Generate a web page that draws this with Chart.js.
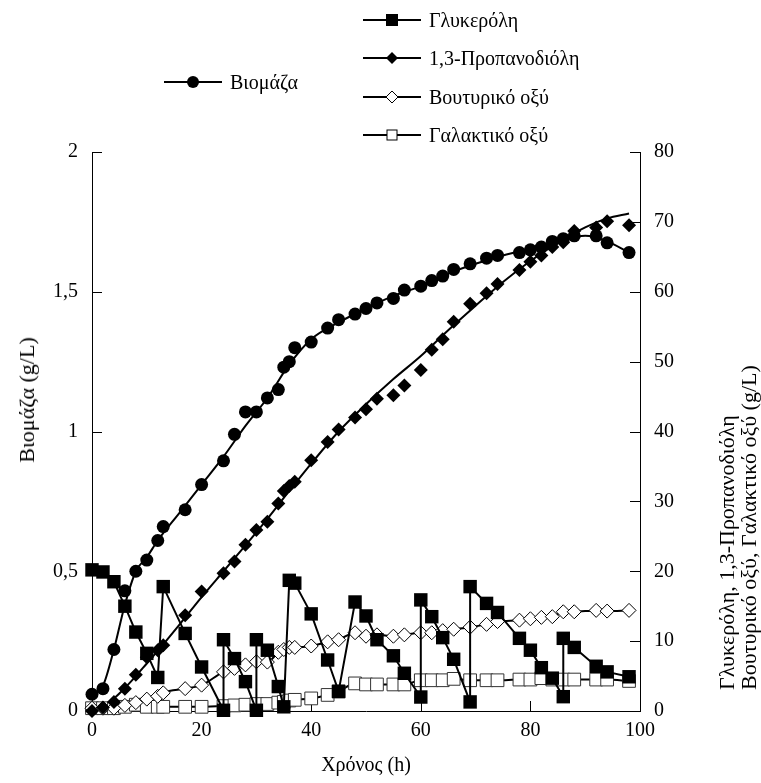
<!DOCTYPE html>
<html><head><meta charset="utf-8">
<script src="https://cdn.jsdelivr.net/npm/chart.js@4/dist/chart.umd.min.js"></script>
<style>
html,body{margin:0;padding:0;background:#fff;}
#wrap{position:relative;width:761px;height:783px;overflow:hidden;font-family:'Liberation Serif','Times New Roman',serif;color:#000;}
#c{position:absolute;left:0;top:0;}
.leg{position:absolute;display:flex;align-items:center;font-size:20px;line-height:22px;white-space:nowrap;transform:translateY(-50%);}
.leg svg{margin-right:8px;display:block;}
.lt{position:absolute;font-size:22px;line-height:24px;white-space:nowrap;text-align:center;transform:translate(-50%,-50%) rotate(-90deg);}
.rt{position:absolute;font-size:22px;line-height:22px;white-space:nowrap;text-align:left;transform-origin:0 0;transform:rotate(-90deg);}
.xt{position:absolute;font-size:20px;white-space:nowrap;transform:translate(-50%,-50%);}
</style></head>
<body><div id="wrap"><canvas id="c" width="761" height="783"></canvas></div>
<script>
// ---- data ----
const sampleTimes = [0,2,4,6,8,10,12,13,17,20,24,26,28,30,32,34,35,36,37,40,43,45,48,50,52,55,57,60,62,64,66,69,72,74,78,80,82,84,86,88,92,94,98];
const biomass = [0.06,0.08,0.22,0.43,0.50,0.54,0.61,0.66,0.72,0.81,0.895,0.99,1.07,1.07,1.12,1.15,1.23,1.25,1.30,1.32,1.37,1.40,1.42,1.44,1.46,1.476,1.506,1.52,1.54,1.556,1.58,1.60,1.62,1.63,1.64,1.65,1.66,1.68,1.69,1.70,1.70,1.675,1.64];
const propanediol = [0,0.5,1.3,3.2,5.2,7.7,8.7,9.4,13.7,17.1,19.7,21.4,23.8,25.9,27.1,29.7,31.5,32.2,32.8,35.9,38.5,40.3,42.0,43.2,44.7,45.2,46.6,48.8,51.7,53.2,55.7,58.3,59.8,61.1,63.1,64.3,65.2,66.4,67.1,68.7,69.2,70.1,69.5];
const butyric = [0.4,0.4,0.4,0.8,1.2,1.7,2.1,2.6,3.2,3.7,5.6,6.1,6.6,7.05,7.0,8.4,8.8,9.1,9.1,9.3,9.9,10.2,11.2,10.7,10.9,10.7,10.9,11.2,11.2,11.5,11.7,12.0,12.4,12.8,13.0,13.2,13.4,13.5,14.2,14.2,14.4,14.3,14.4];
const lactic = [0.4,0.4,0.4,0.6,0.9,0.6,0.6,0.6,0.6,0.6,0.7,0.8,0.9,1.0,1.0,1.2,1.3,1.5,1.6,1.8,2.3,2.8,3.95,3.8,3.8,3.8,3.8,4.4,4.4,4.4,4.6,4.4,4.4,4.4,4.5,4.5,4.7,4.5,4.5,4.5,4.5,4.5,4.3];
const glycerolTimes = [0,2,4,6,8,10,12,13,17,20,24,24,26,28,30,30,32,34,35,36,37,40,43,45,48,50,52,55,57,60,60,62,64,66,69,69,72,74,78,80,82,84,86,86,88,92,94,98];
const glycerol = [20.2,19.9,18.5,15.0,11.3,8.25,4.8,17.8,11.1,6.3,0.1,10.2,7.5,4.2,0.1,10.2,8.7,3.5,0.6,18.7,18.3,13.9,7.3,2.8,15.6,13.6,10.2,7.9,5.4,2.0,15.9,13.5,10.5,7.4,1.3,17.8,15.4,14.1,10.4,8.7,6.2,4.7,2.05,10.4,9.1,6.4,5.6,4.9];
// smooth trend curves drawn in the reference
const trendTimes = [0,2,4,6,8,10,12,16,20,24,28,32,36,40,45,50,55,60,65,70,75,80,85,90,94,98];
const biomassTrend = [0.06,0.09,0.22,0.38,0.50,0.55,0.61,0.71,0.81,0.91,1.02,1.12,1.24,1.33,1.39,1.44,1.485,1.52,1.565,1.60,1.63,1.655,1.68,1.70,1.68,1.64];
const propanediolTrend = [0,0.6,1.8,3.3,5.0,6.8,8.6,12.4,16.3,20.0,23.7,27.5,31.5,35.4,40.0,43.9,47.5,50.8,54.5,58.0,61.4,64.4,67.0,69.2,70.5,71.2];
const xTicks = [0,20,40,60,80,100];
const leftTicks = [0,0.5,1,1.5,2];
const rightTicks = [0,10,20,30,40,50,60,70,80];
const seriesNames = ['Βιομάζα','Γλυκερόλη','1,3-Προπανοδιόλη','Βουτυρικό οξύ','Γαλακτικό οξύ'];
const xTitle = 'Χρόνος (h)';
const leftTitle = 'Βιομάζα (g/L)';
const rightTitle = ['Γλυκερόλη, 1,3-Προπανοδιόλη','Βουτυρικό οξύ, Γαλακτικό οξύ (g/L)'];

const pts = (xs, ys) => xs.map((t, i) => ({x: t, y: ys[i]}));
const FONT = "'Liberation Serif','Times New Roman',serif";

const inwardTicks = {
  id: 'inwardTicks',
  beforeDatasetsDraw(chart) {
    const ctx = chart.ctx, a = chart.chartArea, s = chart.scales;
    ctx.save();
    ctx.strokeStyle = '#000'; ctx.lineWidth = 1;
    ctx.beginPath();
    xTicks.forEach(v => { const p = Math.round(s.x.getPixelForValue(v)) + 0.5; ctx.moveTo(p, a.bottom); ctx.lineTo(p, a.bottom - 10); });
    leftTicks.forEach(v => { const p = Math.round(s.y.getPixelForValue(v)) + 0.5; ctx.moveTo(a.left, p); ctx.lineTo(a.left + 10, p); });
    rightTicks.forEach(v => { const p = Math.round(s.y1.getPixelForValue(v)) + 0.5; ctx.moveTo(a.right, p); ctx.lineTo(a.right - 10, p); });
    ctx.stroke();
    ctx.restore();
  }
};

const chart = new Chart(document.getElementById('c'), {
  type: 'line',
  data: {
    datasets: [
      {label: seriesNames[1], data: pts(glycerolTimes, glycerol), yAxisID: 'y1', order: 1,
       borderColor: '#000', backgroundColor: '#000', borderWidth: 2, tension: 0,
       pointStyle: 'rect', pointRadius: 9.5, pointBorderWidth: 0, pointBackgroundColor: '#000', clip: false},
      {label: seriesNames[0], data: pts(sampleTimes, biomass), yAxisID: 'y', order: 2, showLine: false,
       pointStyle: 'circle', pointRadius: 6.5, pointBorderWidth: 0, pointBackgroundColor: '#000', clip: false},
      {label: seriesNames[2], data: pts(sampleTimes, propanediol), yAxisID: 'y1', order: 3, showLine: false,
       pointStyle: 'rectRot', pointRadius: 7, pointBorderWidth: 0, pointBackgroundColor: '#000', clip: false},
      {label: seriesNames[3], data: pts(sampleTimes, butyric), yAxisID: 'y1', order: 4,
       borderColor: '#000', borderWidth: 2, tension: 0.3, cubicInterpolationMode: 'monotone',
       pointStyle: 'rectRot', pointRadius: 7, pointBorderWidth: 1, pointBorderColor: '#000', pointBackgroundColor: '#fff', clip: false},
      {label: seriesNames[4], data: pts(sampleTimes, lactic), yAxisID: 'y1', order: 5,
       borderColor: '#000', borderWidth: 2, tension: 0.3, cubicInterpolationMode: 'monotone',
       pointStyle: 'rect', pointRadius: 9, pointBorderWidth: 1, pointBorderColor: '#333', pointBackgroundColor: '#fff', clip: false},
      {label: 'biomass trend', data: pts(trendTimes, biomassTrend), yAxisID: 'y', order: 6,
       borderColor: '#000', borderWidth: 2, cubicInterpolationMode: 'monotone', pointRadius: 0},
      {label: 'propanediol trend', data: pts(trendTimes, propanediolTrend), yAxisID: 'y1', order: 7,
       borderColor: '#000', borderWidth: 2, cubicInterpolationMode: 'monotone', pointRadius: 0}
    ]
  },
  options: {
    responsive: false, animation: false, devicePixelRatio: 1,
    layout: {padding: {top: 152, left: 0, right: 0, bottom: 0}},
    plugins: {legend: {display: false}, tooltip: {enabled: false}},
    scales: {
      x: {type: 'linear', min: 0, max: 100, position: 'bottom',
          afterBuildTicks: s => { s.ticks = xTicks.map(v => ({value: v})); },
          afterFit: s => { s.height = 72; },
          grid: {display: true, drawOnChartArea: false, drawTicks: false},
          border: {display: true, color: '#000', width: 1},
          ticks: {color: '#000', font: {family: FONT, size: 20}, padding: 8, maxRotation: 0, autoSkip: false}},
      y: {type: 'linear', min: 0, max: 2, position: 'left',
          afterBuildTicks: s => { s.ticks = leftTicks.map(v => ({value: v})); },
          afterFit: s => { s.width = 92; },
          grid: {display: true, drawOnChartArea: false, drawTicks: false},
          border: {display: true, color: '#000', width: 1},
          ticks: {color: '#000', font: {family: FONT, size: 20}, padding: 14, autoSkip: false,
                  callback: v => String(v).replace('.', ',')}},
      y1: {type: 'linear', min: 0, max: 80, position: 'right',
          afterBuildTicks: s => { s.ticks = rightTicks.map(v => ({value: v})); },
          afterFit: s => { s.width = 121; },
          grid: {display: true, drawOnChartArea: false, drawTicks: false},
          border: {display: true, color: '#000', width: 1},
          ticks: {color: '#000', font: {family: FONT, size: 20}, padding: 14, autoSkip: false}}
    }
  },
  plugins: [inwardTicks]
});

// ---- HTML legend and axis titles ----
const wrap = document.getElementById('wrap');
function marker(kind) {
  const ns = 'http://www.w3.org/2000/svg';
  const svg = document.createElementNS(ns, 'svg');
  svg.setAttribute('width', 58); svg.setAttribute('height', 16);
  const ln = document.createElementNS(ns, 'line');
  ln.setAttribute('x1', 0); ln.setAttribute('x2', 58); ln.setAttribute('y1', 8); ln.setAttribute('y2', 8);
  ln.setAttribute('stroke', '#000'); ln.setAttribute('stroke-width', 2);
  svg.appendChild(ln);
  let m;
  if (kind === 'circle') { m = document.createElementNS(ns, 'circle'); m.setAttribute('cx', 29); m.setAttribute('cy', 8); m.setAttribute('r', 6); m.setAttribute('fill', '#000'); }
  else if (kind === 'square' || kind === 'osquare') { const s = kind === 'square' ? 12 : 10; m = document.createElementNS(ns, 'rect'); m.setAttribute('x', 29 - s/2); m.setAttribute('y', 8 - s/2); m.setAttribute('width', s); m.setAttribute('height', s); m.setAttribute('fill', kind === 'square' ? '#000' : '#fff'); m.setAttribute('stroke', kind === 'square' ? 'none' : '#000'); m.setAttribute('stroke-width', 1); }
  else { m = document.createElementNS(ns, 'polygon'); m.setAttribute('points', '29,2 35,8 29,14 23,8'); m.setAttribute('fill', kind === 'diamond' ? '#000' : '#fff'); m.setAttribute('stroke', kind === 'diamond' ? 'none' : '#000'); m.setAttribute('stroke-width', 1); }
  svg.appendChild(m);
  return svg;
}
function legendItem(text, kind, left, cy) {
  const d = document.createElement('div');
  d.className = 'leg'; d.style.left = left + 'px'; d.style.top = cy + 'px';
  d.appendChild(marker(kind));
  const sp = document.createElement('span'); sp.textContent = text; d.appendChild(sp);
  wrap.appendChild(d);
}
legendItem(seriesNames[0], 'circle', 164, 82);
legendItem(seriesNames[1], 'square', 363, 20);
legendItem(seriesNames[2], 'diamond', 363, 58);
legendItem(seriesNames[3], 'odiamond', 363, 97);
legendItem(seriesNames[4], 'osquare', 363, 135);

const a = chart.chartArea;
const xt = document.createElement('div'); xt.className = 'xt'; xt.textContent = xTitle;
xt.style.left = ((a.left + a.right) / 2) + 'px'; xt.style.top = '764px'; wrap.appendChild(xt);
const lt = document.createElement('div'); lt.className = 'lt'; lt.textContent = leftTitle;
lt.style.left = '27px'; lt.style.top = '400px'; wrap.appendChild(lt);
// right title: two lines, both starting near the bottom of the plot, reading upward
const rt = document.createElement('div'); rt.className = 'rt';
rightTitle.forEach(t => { const l = document.createElement('div'); l.textContent = t; rt.appendChild(l); });
rt.style.left = '716px'; rt.style.top = '690px'; wrap.appendChild(rt);
</script>
</body></html>
